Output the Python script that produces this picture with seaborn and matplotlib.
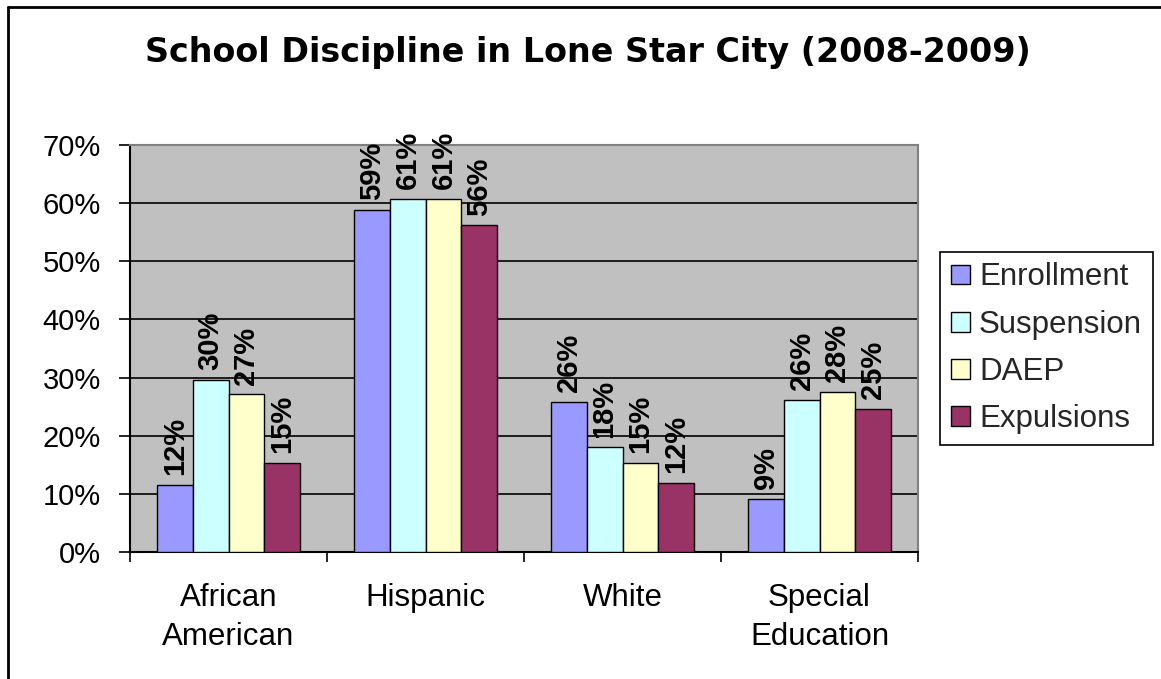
import matplotlib
matplotlib.use("Agg")
import matplotlib.pyplot as plt
from matplotlib.lines import Line2D
import seaborn as sns
import pandas as pd
import numpy as np
from matplotlib.ticker import FixedLocator, PercentFormatter

categories = ["African\nAmerican", "Hispanic", "White", "Special\nEducation"]
series = ["Enrollment", "Suspension", "DAEP", "Expulsions"]
enrollment = [11.6, 58.8, 25.8, 9.1]
suspension = [29.6, 60.7, 18.0, 26.2]
daep = [27.1, 60.7, 15.3, 27.6]
expulsions = [15.3, 56.2, 11.9, 24.6]
colors = ["#9999FF", "#CCFFFF", "#FFFFCC", "#993366"]
yticks = [0, 10, 20, 30, 40, 50, 60, 70]
title = "School Discipline in Lone Star City (2008-2009)"

rows = []
for name, vals in zip(series, [enrollment, suspension, daep, expulsions]):
    for c, v in zip(categories, vals):
        rows.append({"Group": c, "Series": name, "Value": v})
df = pd.DataFrame(rows)

sns.set_theme(style="white")
plt.rcParams["font.family"] = ["Liberation Sans", "DejaVu Sans"]

W, H = 1161, 679
fig = plt.figure(figsize=(W / 100, H / 100), dpi=100)
fig.patch.set_facecolor("white")

# outer chart border (top and left edges visible)
fig.add_artist(Line2D([7.5 / W, 1.0], [1 - 6.5 / H, 1 - 6.5 / H],
                      transform=fig.transFigure, color="black", linewidth=2))
fig.add_artist(Line2D([7.5 / W, 7.5 / W], [0.0, 1 - 6.5 / H],
                      transform=fig.transFigure, color="black", linewidth=2))

ax = fig.add_axes([130 / W, 1 - 552 / H, (918 - 130) / W, (552 - 145) / H])
ax.set_facecolor("#C0C0C0")

sns.barplot(data=df, x="Group", y="Value", hue="Series", order=categories,
            hue_order=series, palette=colors, width=0.727, edgecolor="black",
            linewidth=1.0, saturation=1, ax=ax, legend=True, zorder=3)

ax.set_ylim(0, 70)
ax.set_xlim(-0.5, 3.5)
ax.yaxis.set_major_locator(FixedLocator(yticks))
ax.yaxis.set_major_formatter(PercentFormatter(decimals=0))
ax.grid(axis="y", color="black", linewidth=1.2, zorder=0)
ax.set_axisbelow(True)
ax.grid(axis="x", visible=False)

for s in ["top", "right"]:
    ax.spines[s].set_color("#808080")
    ax.spines[s].set_linewidth(1.5)
for s in ["left", "bottom"]:
    ax.spines[s].set_color("black")
    ax.spines[s].set_linewidth(1.5)

ax.tick_params(axis="y", which="major", direction="out", length=8, width=1.2,
               color="black", left=True, labelsize=21, pad=13, labelcolor="black")
ax.set_xticks(np.arange(len(categories)))
ax.set_xticklabels(categories, linespacing=1.4)
ax.tick_params(axis="x", which="major", length=0, labelsize=22.5, pad=22,
               labelcolor="black")
ax.set_xticks(np.arange(len(categories) + 1) - 0.5, minor=True)
ax.tick_params(axis="x", which="minor", direction="out", length=7, width=1.2,
               color="black", bottom=True)
ax.set_xlabel("")
ax.set_ylabel("")

for cont, vals in zip(ax.containers, [enrollment, suspension, daep, expulsions]):
    ax.bar_label(cont, labels=[f"{v:.0f}%" for v in vals], rotation=90,
                 padding=7, fontsize=21, fontweight="bold", color="black",
                 clip_on=False)

handles, labels = ax.get_legend_handles_labels()
ax.legend_.remove()
leg = fig.legend(handles, labels, loc="upper left",
                 bbox_to_anchor=(940 / W, 1 - 251.5 / H), fontsize=22.5,
                 frameon=True, fancybox=False, framealpha=1, edgecolor="black",
                 handlelength=0.6, handleheight=0.6, handletextpad=0.3,
                 labelspacing=0.55, borderpad=0.35, borderaxespad=0)
leg.get_frame().set_linewidth(1.2)

fig.text(588 / W, 1 - 62 / H, title, ha="center", va="baseline",
         fontsize=24, fontweight="bold", color="black", family="DejaVu Sans")

fig.savefig("out.png", dpi=100, facecolor=fig.get_facecolor())
